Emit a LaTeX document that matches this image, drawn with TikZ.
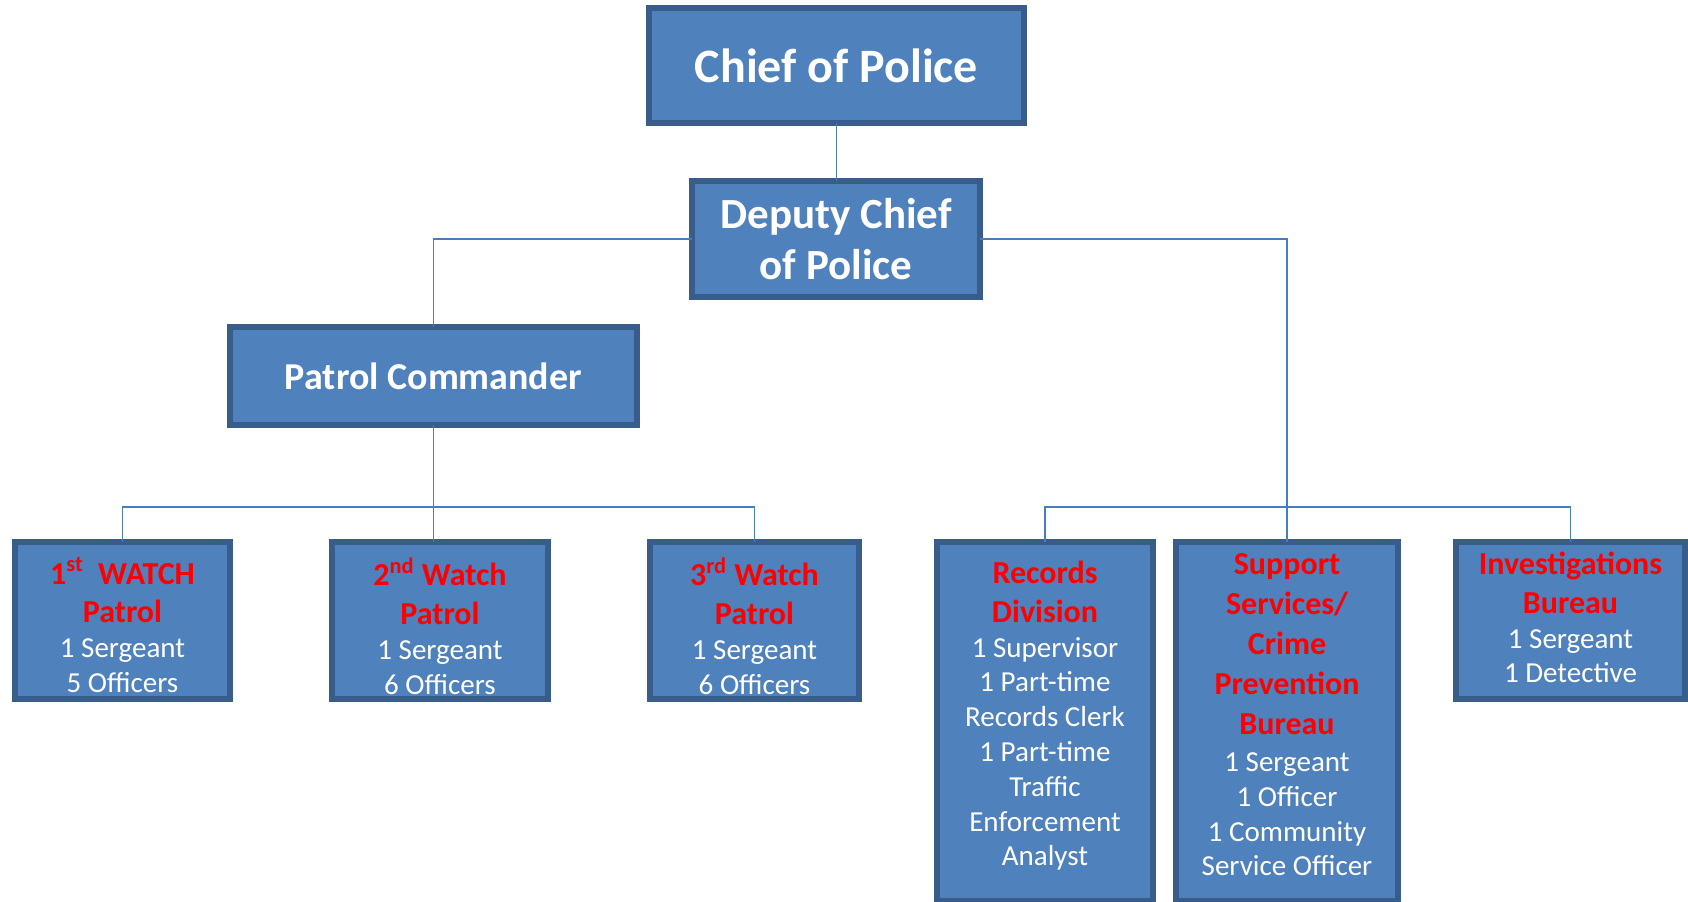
\documentclass[tikz,border=0pt]{standalone}
\usepackage{fontspec}
\setmainfont{Carlito}
\usetikzlibrary{positioning}

\definecolor{boxblue}{HTML}{4F81BD}
\definecolor{boxedge}{HTML}{385D8A}
\definecolor{linkblue}{HTML}{4A7EBB}

\newcommand{\headline}[1]{{\color{red}\bfseries\fontsize{16}{20}\selectfont #1}}
\newcommand{\firstline}[1]{\rule{0pt}{13pt}\headline{#1}}

\tikzset{
    unit/.style={draw=boxedge, fill=boxblue, line width=3pt, inner sep=0pt, outer sep=0pt},
    bigtext/.style={text=white, align=center},
    caption/.style={text=white, align=center, inner sep=0pt, font=\fontsize{14.5}{17.4}\selectfont},
    link/.style={draw=linkblue, line width=0.9pt},
}

\begin{document}
\begin{tikzpicture}[x=1pt, y=1pt]
    \useasboundingbox (0, 0) rectangle (844, 450.5);

    \node[unit, bigtext, minimum width=187.5pt, minimum height=57.5pt, font=\bfseries\fontsize{24}{29}\selectfont] (chief) at (418.25, 417.75) {Chief of Police};
    \node[unit, bigtext, minimum width=144pt, minimum height=58pt, font=\bfseries\fontsize{21.5}{25.5}\selectfont] (deputy) at (418, 331) {Deputy Chief\\of Police};
    \node[unit, bigtext, minimum width=203.5pt, minimum height=49pt, font=\bfseries\fontsize{19}{23}\selectfont] (pc) at (216.75, 262.5) {Patrol Commander};

    \node[unit, minimum width=107.5pt, minimum height=78.5pt] (w1) at (61.25, 140.25) {};
    \node[unit, minimum width=108pt, minimum height=78.5pt] (w2) at (220, 140.25) {};
    \node[unit, minimum width=104.5pt, minimum height=78.5pt] (w3) at (377.25, 140.25) {};
    \node[unit, minimum width=108pt, minimum height=179.5pt] (rec) at (522.5, 89.75) {};
    \node[unit, minimum width=111pt, minimum height=179.5pt] (sup) at (643.5, 89.75) {};
    \node[unit, minimum width=114.5pt, minimum height=78.5pt] (inv) at (785.25, 140.25) {};

    \node[caption, below=7.5pt of w1.north] (w1 text) {\firstline{1\textsuperscript{st}\ \ WATCH}\\[2pt]\headline{Patrol}\\1 Sergeant\\5 Officers};
    \node[caption, below=7.5pt of w2.north] (w2 text) {\firstline{2\textsuperscript{nd} Watch}\\[2pt]\headline{Patrol}\\1 Sergeant\\6 Officers};
    \node[caption, below=7.5pt of w3.north] (w3 text) {\firstline{3\textsuperscript{rd} Watch}\\[2pt]\headline{Patrol}\\1 Sergeant\\6 Officers};
    \node[caption, below=7.5pt of rec.north] (rec text) {\firstline{Records}\\[2pt]\headline{Division}\\1 Supervisor\\1 Part-time\\Records Clerk\\1 Part-time\\Traffic\\Enforcement\\Analyst};
    \node[caption, below=3pt of sup.north] (sup text) {\firstline{Support}\\[2.6pt]\headline{Services/}\\[2.6pt]\headline{Crime}\\[2.6pt]\headline{Prevention}\\[2.6pt]\headline{Bureau}\\[1.1pt]1 Sergeant\\1 Officer\\1 Community\\Service Officer};
    \node[caption, below=3pt of inv.north] (inv text) {\firstline{Investigations}\\[2pt]\headline{Bureau}\\1 Sergeant\\1 Detective};

    \draw[link] (chief.south) -- (chief.south |- deputy.north);
    \draw[link] (deputy.west) -| (pc.north);
    \draw[link] (deputy.east) -| (sup.north);
    \draw[link] (pc.south) -- (pc.south |- w2.north);
    \draw[link] (w1.north) |- ([yshift=17.5pt]w2.north) -| (w3.north);
    \draw[link] (rec.north) |- ([yshift=17.5pt]sup.north) -| (inv.north);
\end{tikzpicture}
\end{document}
